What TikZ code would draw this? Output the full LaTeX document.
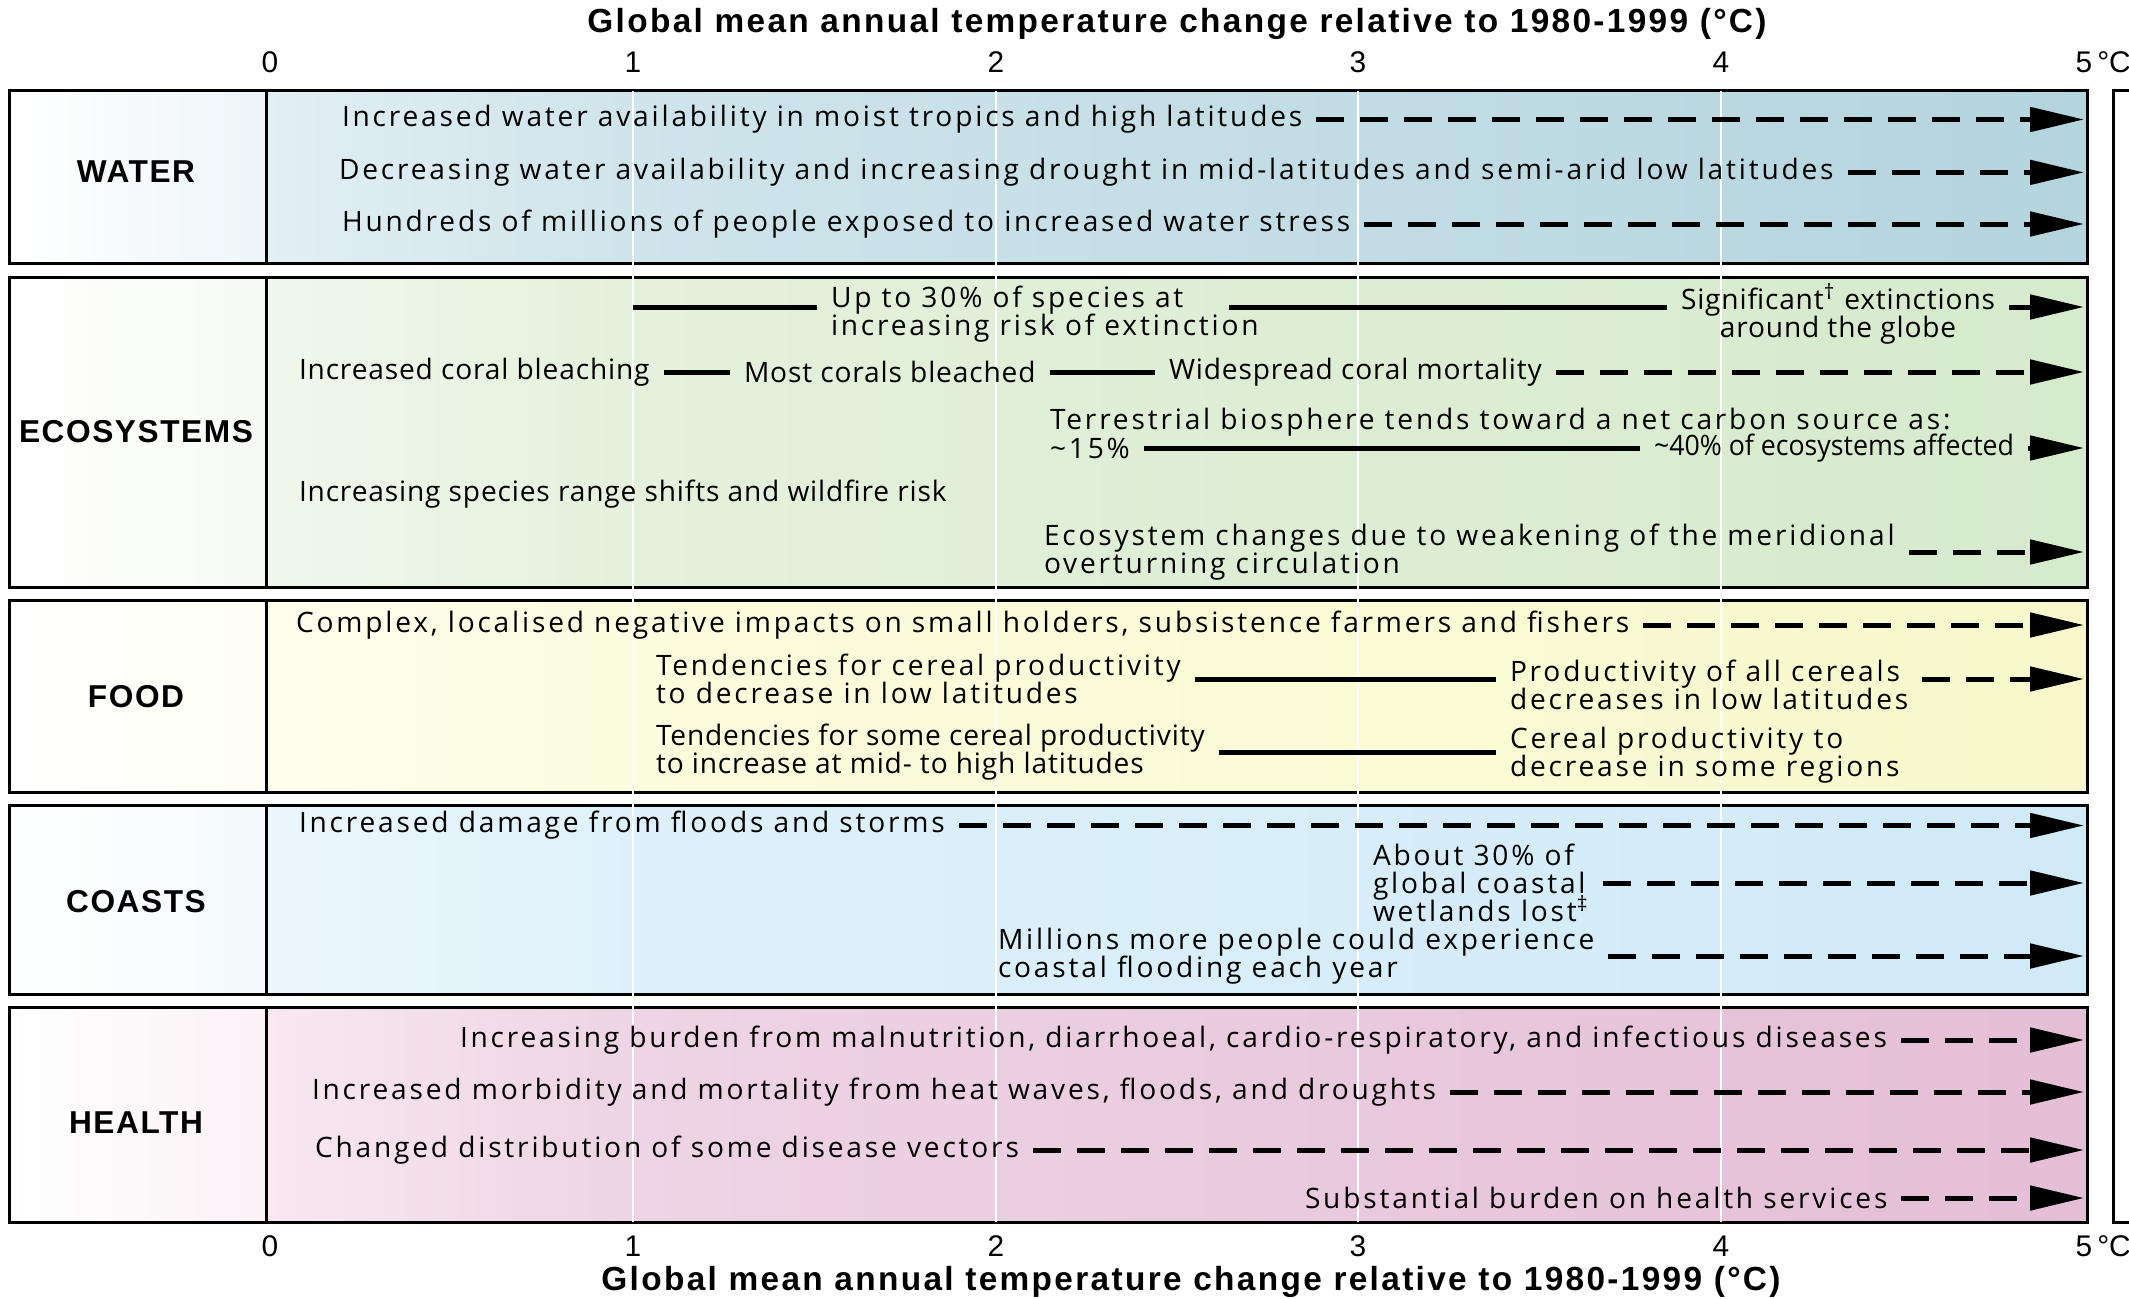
\documentclass[tikz,border=0pt]{standalone}
\usepackage{fontspec}
\setmainfont{Open Sans}
\newfontfamily\bodyfont[LetterSpace=10]{Open Sans}
\newfontfamily\condfont[LetterSpace=3]{Open Sans}
\newfontfamily\narrowfont[FakeStretch=0.95]{Open Sans}
\newfontfamily\headfont[LetterSpace=5]{Liberation Sans}
\newfontfamily\titlefont[LetterSpace=7]{Liberation Sans}
\newfontfamily\tickfont{Liberation Sans}
\usepackage{tikz}
\usetikzlibrary{arrows.meta}
\definecolor{waterL}{RGB}{226,239,244}
\definecolor{waterM}{RGB}{207,228,235}
\definecolor{waterR}{RGB}{180,212,222}
\definecolor{ecoL}{RGB}{240,247,236}
\definecolor{ecoM}{RGB}{228,241,220}
\definecolor{ecoR}{RGB}{214,234,204}
\definecolor{foodL}{RGB}{254,254,238}
\definecolor{foodM}{RGB}{252,252,222}
\definecolor{foodR}{RGB}{248,248,204}
\definecolor{coastL}{RGB}{236,247,252}
\definecolor{coastM}{RGB}{222,241,250}
\definecolor{coastR}{RGB}{208,234,248}
\definecolor{healthL}{RGB}{248,232,240}
\definecolor{healthM}{RGB}{238,212,228}
\definecolor{healthR}{RGB}{228,190,214}
\newcommand{\bodysize}{\fontsize{8pt}{8pt}\selectfont\lineskiplimit=-10pt}
\newcommand{\panelleft}{9.5}
\newcommand{\panelcut}{266}
\newcommand{\panelright}{2087}
\newcommand{\panel}[5]{%
    \shade[left color=white, right color=#3!60!white] (\panelleft,#1) rectangle (\panelcut,#2);
    \shade[left color=#3, right color=#4] (\panelcut,#1) rectangle (633,#2);
    \shade[left color=#4, right color=#5] (633,#1) rectangle (\panelright,#2);
    \draw[frame] (\panelleft,#1) rectangle (\panelright,#2) (\panelcut,#1) -- (\panelcut,#2);
}
\tikzset{
    frame/.style={draw, line width=0.3mm},
    grid/.style={white, line width=0.25mm},
    cat/.style={font=\headfont\bfseries\fontsize{9pt}{10pt}\selectfont},
    axistitle/.style={font=\titlefont\bfseries\fontsize{9.5pt}{10pt}\selectfont},
    tick/.style={font=\tickfont\fontsize{8.5pt}{10pt}\selectfont},
    txt/.style={anchor=west, inner sep=0pt, outer xsep=1.4mm, outer ysep=0pt, font=\bodyfont\bodysize},
    ctxt/.style={txt, font=\condfont\bodysize},
    ntxt/.style={txt, font=\narrowfont\bodysize},
    trend/.style={line width=0.5mm},
    arr/.style={trend, -{Triangle[length=5.4mm, width=2.4mm]}},
    cont/.style={arr, dash pattern=on 2.8mm off 1.6mm}
}
\begin{document}
\begin{tikzpicture}[x=0.1mm, y=-0.1mm]
    \useasboundingbox (0,0) rectangle (2129,1298);

    \panel{91}{263}{waterL}{waterM}{waterR}
    \panel{277}{587}{ecoL}{ecoM}{ecoR}
    \panel{600}{792}{foodL}{foodM}{foodR}
    \panel{805}{994}{coastL}{coastM}{coastR}
    \panel{1007}{1222}{healthL}{healthM}{healthR}
    \draw[frame] (2129,91) -- (2113,91) -- (2113,1222) -- (2129,1222);
    \draw[grid] (633,91) -- (633,1222) (996,91) -- (996,1222)
                (1358,91) -- (1358,1222) (1721,91) -- (1721,1222);

    \coordinate (tip) at (2084,0);

    \node[axistitle] (toptitle) at (1177,24) {Global mean annual temperature change relative to 1980-1999 (°C)};
    \node[tick] (t0) at (270,62) {0};
    \node[tick] (t1) at (633,62) {1};
    \node[tick] (t2) at (996,62) {2};
    \node[tick] (t3) at (1358,62) {3};
    \node[tick] (t4) at (1721,62) {4};
    \node[tick] (t5) at (2084,62) {5\rlap{\,°C}};
    \node[tick] (b0) at (270,1246) {0};
    \node[tick] (b1) at (633,1246) {1};
    \node[tick] (b2) at (996,1246) {2};
    \node[tick] (b3) at (1358,1246) {3};
    \node[tick] (b4) at (1721,1246) {4};
    \node[tick] (b5) at (2084,1246) {5\rlap{\,°C}};
    \node[axistitle] (bottomtitle) at (1191,1282) {Global mean annual temperature change relative to 1980-1999 (°C)};

    \node[cat] (water) at (136,172) {WATER};
    \node[cat] (eco) at (136,432) {ECOSYSTEMS};
    \node[cat] (food) at (136,697) {FOOD};
    \node[cat] (coast) at (136,902) {COASTS};
    \node[cat] (health) at (136,1123) {HEALTH};

    % water
    \node[txt] (W1) at (328,119.5) {Increased water availability in moist tropics and high latitudes};
    \node[txt] (W2) at (325,172.4) {Decreasing water availability and increasing drought in mid-latitudes and semi-arid low latitudes};
    \node[txt] (W3) at (328,224) {Hundreds of millions of people exposed to increased water stress};
    \draw[cont] (W1.east) -- (W1.east -| tip);
    \draw[cont] (W2.east) -- (W2.east -| tip);
    \draw[cont] (W3.east) -- (W3.east -| tip);

    % ecosystems
    \node[txt, align=left] (E1) at (817,314) {Up to 30\% of species at\\increasing risk of extinction};
    \node[ctxt, align=center] (E2) at (1667,314) {Significant\textsuperscript{\textdagger} extinctions\\around the globe};
    \coordinate (e1a) at (633,307);
    \coordinate (e1b) at (1229,307);
    \draw[trend] (e1a) -- (e1a -| E1.west);
    \draw[trend] (e1b) -- (e1b -| E2.west);
    \draw[arr] (E2.east |- e1b) -- (e1b -| tip);

    \node[ctxt] (E3) at (285,372) {Increased coral bleaching};
    \node[ctxt] (E4) at (730,372) {Most corals bleached};
    \node[ctxt] (E5) at (1155,372) {Widespread coral mortality};
    \draw[trend] (E3.east) -- (E4.west) (E4.east) -- (E5.west);
    \draw[cont] (E5.east) -- (E5.east -| tip);

    \node[txt] (E6a) at (1036,422) {Terrestrial biosphere tends toward a net carbon source as:};
    \node[txt] (E6b) at (1036,448) {\textasciitilde 15\%};
    \node[ntxt] (E6c) at (1640,448) {\textasciitilde 40\% of ecosystems affected};
    \draw[trend] (E6b.east) -- (E6c.west);
    \draw[arr] (E6c.east) -- (E6c.east -| tip);

    \node[ctxt] (E7) at (285,494) {Increasing species range shifts and wildfire risk};

    \node[txt, align=left] (E8) at (1030,552) {Ecosystem changes due to weakening of the meridional\\overturning circulation};
    \draw[cont] (E8.east) -- (E8.east -| tip);

    % food
    \node[txt] (F1) at (282,625) {Complex, localised negative impacts on small holders, subsistence farmers and fishers};
    \draw[cont] (F1.east) -- (F1.east -| tip);
    \node[txt, align=left] (F2) at (642,679) {Tendencies for cereal productivity\\to decrease in low latitudes};
    \node[txt, align=left] (F3) at (1496,685) {Productivity of all cereals\\decreases in low latitudes};
    \draw[trend] (F2.east) -- (F2.east -| F3.west);
    \draw[cont] (F3.east |- F2.east) -- (F2.east -| tip);
    \node[ctxt, align=left] (F4) at (642,752) {Tendencies for some cereal productivity\\to increase at mid- to high latitudes};
    \node[txt, align=left] (F5) at (1496,755) {Cereal productivity to\\decrease in some regions};
    \draw[trend] (F4.east) -- (F4.east -| F5.west);

    % coasts
    \node[txt] (C1) at (285,825.5) {Increased damage from floods and storms};
    \draw[cont] (C1.east) -- (C1.east -| tip);
    \node[txt, align=left] (C2) at (1359,883) {About 30\% of\\global coastal\\wetlands lost\textsuperscript{\textdaggerdbl}};
    \draw[cont] (C2.east) -- (C2.east -| tip);
    \node[txt, align=left] (C3) at (984,956) {Millions more people could experience\\coastal flooding each year};
    \draw[cont] (C3.east) -- (C3.east -| tip);

    % health
    \node[txt] (H1) at (446,1040) {Increasing burden from malnutrition, diarrhoeal, cardio-respiratory, and infectious diseases};
    \node[txt] (H2) at (298,1092) {Increased morbidity and mortality from heat waves, floods, and droughts};
    \node[txt] (H3) at (301,1150) {Changed distribution of some disease vectors};
    \node[txt] (H4) at (1291,1198) {Substantial burden on health services};
    \draw[cont] (H1.east) -- (H1.east -| tip);
    \draw[cont] (H2.east) -- (H2.east -| tip);
    \draw[cont] (H3.east) -- (H3.east -| tip);
    \draw[cont] (H4.east) -- (H4.east -| tip);
\end{tikzpicture}
\end{document}
